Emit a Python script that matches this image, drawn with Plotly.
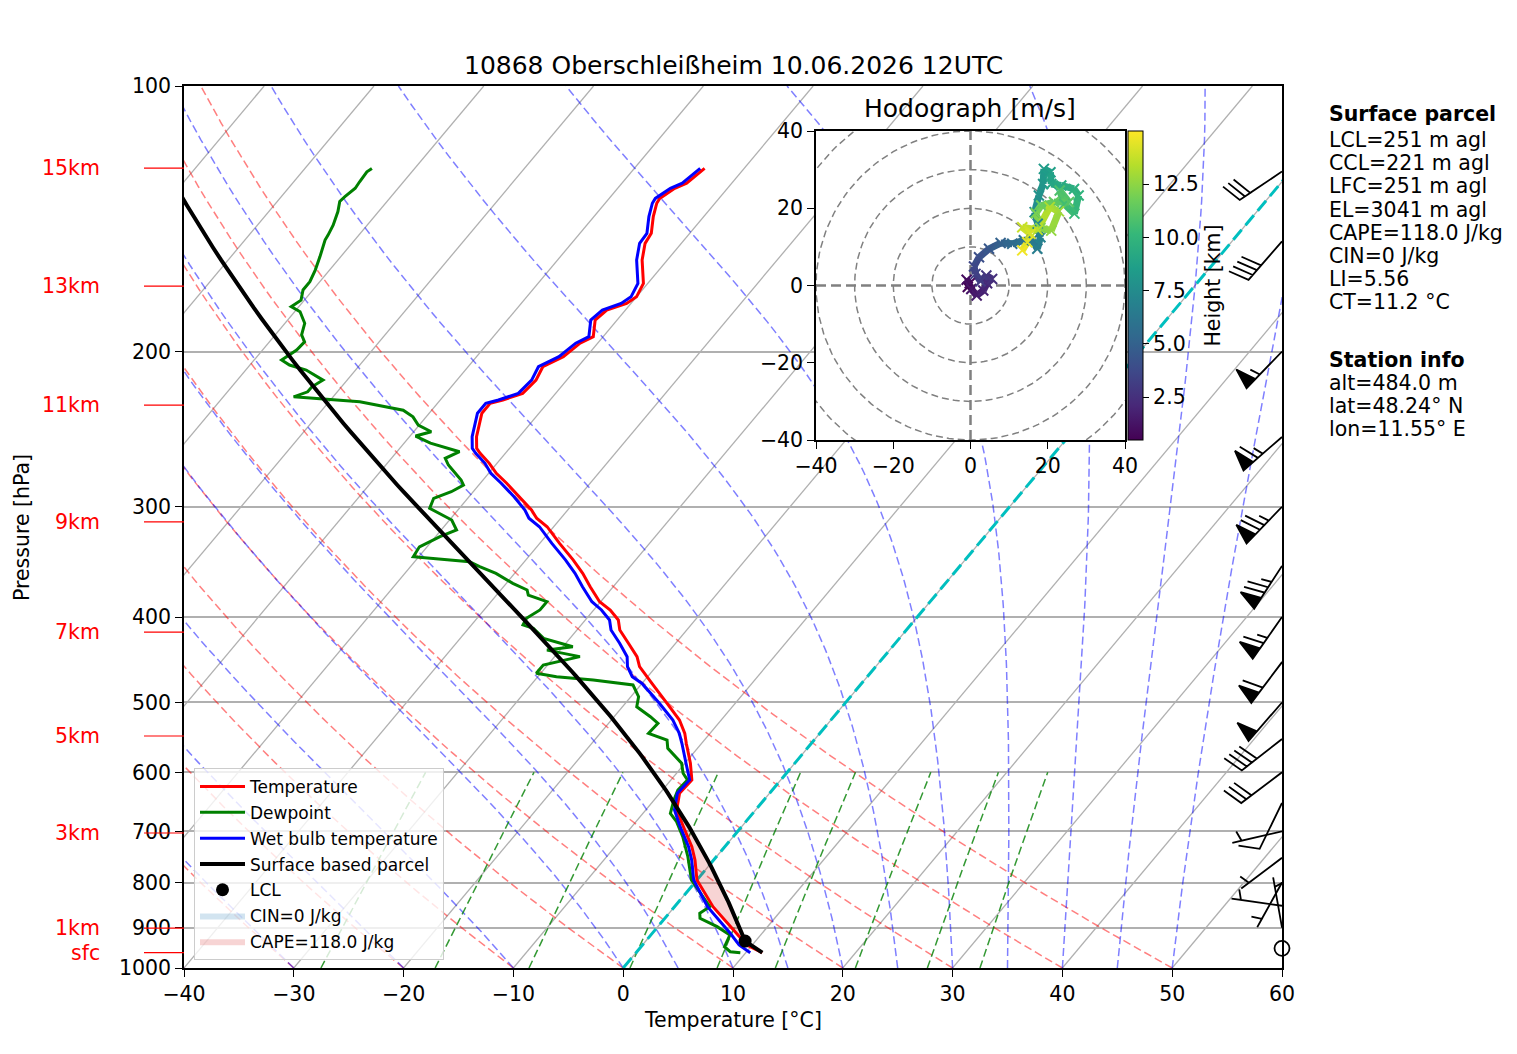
import numpy as np
import plotly.graph_objects as go
from plotly.colors import sample_colorscale

# sounding values (hPa, degC)
temp_p = [124.0, 128.9, 130.6, 134.1, 135.8, 140.6, 146.9, 150.8, 157.5, 167.4,
          173.4, 176.4, 179.5, 184.2, 192.4, 195.7, 202.7, 208.1, 215.5, 223.1,
          227.0, 229.0, 235.0, 245.5, 249.8, 257.5, 260.9, 267.8, 274.9, 282.1,
          292.2, 302.5, 309.1, 316.0, 330.0, 344.6, 356.9, 369.6, 384.3, 392.7,
          403.1, 413.8, 428.4, 443.6, 455.4, 467.5, 475.7, 501.1, 523.4, 541.9,
          556.2, 586.0, 612.0, 633.7, 661.7, 691.5, 728.7, 754.4, 794.7, 852.1,
          913.4, 941.7, 960.8]
temp_c = [-53.6, -54.1, -54.8, -55.4, -55.3, -54.6, -53.5, -53.3, -52.3, -50.4,
          -50.0, -50.4, -51.7, -52.0, -50.9, -51.6, -52.1, -53.2, -52.8, -53.0,
          -54.3, -55.2, -55.2, -54.3, -53.9, -53.0, -52.3, -50.7, -49.3, -47.6,
          -45.4, -43.3, -42.2, -40.6, -38.2, -35.7, -33.8, -32.1, -30.1, -28.5,
          -27.0, -26.1, -24.3, -22.5, -21.5, -20.1, -19.1, -16.2, -13.8, -12.3,
          -11.4, -9.5, -8.1, -8.2, -7.2, -5.3, -3.0, -1.7, 0.0, 3.5,
          7.7, 9.5, 11.5]
wetbulb_c = [-54.0, -54.5, -55.2, -55.8, -55.7, -55.0, -53.9, -53.8, -52.8, -50.9,
             -50.5, -50.9, -52.1, -52.4, -51.3, -52.0, -52.5, -53.6, -53.2, -53.4,
             -54.7, -55.6, -55.6, -54.7, -54.3, -53.4, -52.7, -51.1, -49.8, -48.1,
             -45.9, -43.9, -42.9, -41.3, -38.9, -36.4, -34.5, -32.8, -30.8, -29.3,
             -27.8, -26.9, -25.1, -23.4, -22.6, -21.4, -20.0, -16.9, -14.4, -12.8,
             -11.8, -9.9, -8.3, -8.4, -7.4, -5.6, -3.3, -2.0, -0.3, 3.0,
             7.1, 8.8, 10.4]
dew_p = [124.0, 125.1, 128.4, 130.6, 133.5, 135.2, 138.8, 143.8, 147.6, 149.5,
         156.1, 161.7, 166.7, 170.3, 174.9, 177.9, 180.3, 185.8, 191.5, 195.0,
         199.2, 204.5, 207.2, 209.9, 215.5, 219.3, 222.2, 225.1, 228.0, 233.1,
         237.2, 242.3, 246.6, 249.4, 254.1, 259.8, 264.3, 269.0, 279.7, 283.4,
         288.4, 293.4, 301.2, 310.5, 318.7, 324.3, 333.0, 341.7, 346.2, 350.7,
         356.9, 366.4, 372.7, 377.7, 384.3, 392.7, 401.3, 408.4, 412.0, 422.9,
         432.3, 436.1, 443.6, 453.4, 463.3, 467.5, 471.6, 477.7, 492.5, 505.6,
         518.9, 528.0, 541.9, 551.5, 563.6, 586.0, 601.5, 612.0, 628.4, 645.0,
         667.9, 682.6, 709.7, 747.9, 794.7, 852.1, 866.9, 878.2, 897.7, 917.5,
         946.0, 958.3, 960.8]
dew_c = [-83.9, -84.1, -84.0, -83.9, -84.2, -84.3, -83.7, -83.1, -82.8, -82.7,
         -81.9, -81.3, -80.9, -80.9, -80.3, -80.7, -79.5, -78.2, -77.6, -76.8,
         -76.9, -77.5, -76.4, -74.5, -72.2, -72.7, -72.7, -73.6, -67.2, -62.6,
         -61.2, -60.1, -58.4, -59.5, -57.6, -54.3, -55.1, -54.3, -52.0, -51.4,
         -52.0, -53.1, -52.7, -49.8, -48.6, -49.6, -50.7, -50.5, -45.0, -43.7,
         -41.7, -39.4, -37.6, -37.1, -34.9, -34.9, -35.5, -35.3, -34.1, -32.4,
         -29.1, -31.2, -27.7, -30.4, -30.4, -28.3, -24.7, -20.7, -19.3, -18.7,
         -16.7, -15.5, -15.6, -13.4, -12.7, -10.3, -9.4, -8.5, -8.6, -8.2,
         -7.5, -6.3, -4.6, -2.6, -0.5, 3.2, 2.8, 3.2, 5.4, 7.2,
         7.6, 8.5, 9.5]

sfc_p = 960.8
sfc_t = 11.5
sfc_td = 9.5

# hodograph (m/s) with height (km)
hodo_u = [-0.7, -0.2, -1.0, 0.2, 1.6, 3.3, 4.3, 5.6, 4.1, 2.6, 1.3, 0.9, 2.2, 4.8, 7.8, 10.8,
          13.8, 16.0, 17.3, 18.1, 17.4, 16.6, 17.7, 18.8, 19.0, 20.7, 20.9, 23.5, 26.8, 28.0,
          26.9, 24.3, 23.1, 25.5, 21.6, 18.3, 16.9, 18.1, 20.9, 22.9, 20.5, 17.4, 13.4, 15.5,
          14.7, 13.4]
hodo_v = [-0.4, 0.6, 1.5, -0.9, -2.6, -1.3, 0.6, 1.7, 2.6, 1.1, 3.0, 4.9, 7.3, 9.5, 11.0, 10.8,
          11.7, 11.8, 9.5, 12.5, 16.0, 19.0, 23.3, 26.3, 30.2, 29.3, 26.3, 25.9, 25.0, 23.3,
          18.6, 21.1, 24.6, 21.6, 21.6, 20.7, 18.7, 14.9, 14.2, 19.2, 20.3, 14.4, 15.1, 13.4,
          11.2, 9.1]
hodo_h = [0.5, 0.8, 1.0, 1.3, 1.6, 1.9, 2.2, 2.5, 2.8, 3.0, 3.3, 3.6, 4.0, 4.5, 5.0, 5.5,
          6.0, 6.3, 6.6, 6.9, 7.2, 7.5, 7.8, 8.1, 8.4, 8.7, 9.0, 9.3, 9.6, 9.9,
          10.2, 10.5, 10.8, 11.1, 11.4, 11.7, 12.0, 12.3, 12.6, 12.9, 13.2, 13.5, 13.8, 14.1,
          14.4, 14.7]

# wind barbs (direction deg, speed kt)
barb_p = [125, 150, 200, 250, 300, 350, 400, 450, 500, 550, 600, 650, 700, 750, 800, 850, 900, 950]
barb_dir = [236, 221, 224, 229, 224, 213, 215, 217, 221, 232, 233, 206, 257, 233, 209, 278, 350, 0]
barb_kt = [30, 40, 55, 65, 75, 75, 65, 60, 50, 40, 30, 10, 5, 5, 5, 5, 5, 0]

height_names = ['15km', '13km', '11km', '9km', '7km', '5km', '3km', '1km', 'sfc']
height_p = [123.9, 168.6, 230.0, 312.0, 416.0, 545.7, 703.0, 901.0, sfc_p]

parcel_lines = ['LCL=251 m agl', 'CCL=221 m agl', 'LFC=251 m agl', 'EL=3041 m agl',
                'CAPE=118.0 J/kg', 'CIN=0 J/kg', 'LI=5.56', 'CT=11.2 °C']
station_lines = ['alt=484.0 m', 'lat=48.24° N', 'lon=11.55° E']

K = 67.3
FONT = 'DejaVu Sans'
FS = 20.5
Rd, Cp, Lv, eps = 287.04749, 1004.6662, 2.50084e6, 0.621957
kappa = Rd / Cp


def skew(t, p):
    return np.asarray(t, float) + K * np.log10(1000.0 / np.asarray(p, float))


def sat_vp(tc):
    return 6.112 * np.exp(17.67 * tc / (tc + 243.5))


def dewpoint(e):
    a = np.log(e / 6.112)
    return 243.5 * a / (17.67 - a)


def dtdp(p, t):
    es = sat_vp(t - 273.15)
    rs = eps * es / (p - es)
    frac = (Rd * t + Lv * rs) / (Cp + Lv * Lv * rs * eps / (Rd * t * t))
    return frac / p


def moist(t0k, pres):
    t = np.array(t0k, float)
    out = [t.copy()]
    for p1, p2 in zip(pres[:-1], pres[1:]):
        h = p2 - p1
        k1 = dtdp(p1, t)
        k2 = dtdp(p1 + h / 2, t + h / 2 * k1)
        k3 = dtdp(p1 + h / 2, t + h / 2 * k2)
        k4 = dtdp(p2, t + h * k3)
        t = t + h / 6 * (k1 + 2 * k2 + 2 * k3 + k4)
        out.append(t.copy())
    return np.array(out)


def joined(lines):
    xs, ys = [], []
    for x, y in lines:
        xs += list(x) + [None]
        ys += list(y) + [None]
    return xs, ys


# positions below are given in reference-image pixels, relative to the plot box
def xpap(px):
    return (px - 184) / 1098


def ypap(py):
    return (968 - py) / 882


fig = go.Figure()
pb = np.linspace(1000, 100, 181)

# skewed isotherms
iso = [(skew(np.full(2, t), [1000, 100]), [1000, 100]) for t in range(-110, 61, 10)]
x, y = joined(iso)
fig.add_trace(go.Scatter(x=x, y=y, mode='lines', line=dict(color='#b0b0b0', width=1.3),
                         showlegend=False, hoverinfo='skip'))

# dry adiabats
dry = []
for t0 in range(-40, 51, 10):
    t = (t0 + 273.15) * (pb / 1000) ** kappa - 273.15
    dry.append((skew(t, pb), pb))
x, y = joined(dry)
fig.add_trace(go.Scatter(x=x, y=y, mode='lines',
                         line=dict(color='rgba(255,0,0,0.5)', width=1.5, dash='8px,4px'),
                         showlegend=False, hoverinfo='skip'))

# moist adiabats
mt0 = np.concatenate((np.arange(-40, 0, 10), np.arange(0, 51, 5)))
mt = moist(mt0 + 273.15, pb) - 273.15
x, y = joined([(skew(mt[:, i], pb), pb) for i in range(len(mt0))])
fig.add_trace(go.Scatter(x=x, y=y, mode='lines',
                         line=dict(color='rgba(0,0,255,0.5)', width=1.5, dash='8px,4px'),
                         showlegend=False, hoverinfo='skip'))

# mixing ratio lines
pm = np.linspace(1000, 600, 41)
mix = []
for w in [0.0004, 0.001, 0.002, 0.004, 0.007, 0.01, 0.016, 0.024, 0.032]:
    td = dewpoint(pm * w / (eps + w))
    mix.append((skew(td, pm), pm))
x, y = joined(mix)
fig.add_trace(go.Scatter(x=x, y=y, mode='lines',
                         line=dict(color='rgba(0,128,0,0.8)', width=1.5, dash='8px,4px'),
                         showlegend=False, hoverinfo='skip'))

# freezing level isotherm
fig.add_trace(go.Scatter(x=skew([0, 0], [1000, 100]), y=[1000, 100], mode='lines',
                         line=dict(color='#00bfbf', width=3, dash='13px,6px'),
                         showlegend=False, hoverinfo='skip'))

# surface parcel
w0 = eps * sat_vp(sfc_td) / (sfc_p - sat_vp(sfc_td))
p_lcl = sfc_p
for _ in range(60):
    t_lcl = dewpoint(p_lcl * w0 / (eps + w0))
    p_lcl = sfc_p * ((t_lcl + 273.15) / (sfc_t + 273.15)) ** (1 / kappa)
p_dry = np.linspace(sfc_p, p_lcl, 8)
t_dry = (sfc_t + 273.15) * (p_dry / sfc_p) ** kappa - 273.15
p_wet = np.linspace(p_lcl, 100, 160)
t_wet = moist([t_lcl + 273.15], p_wet)[:, 0] - 273.15
parcel_p = np.concatenate((p_dry, p_wet[1:]))
parcel_t = np.concatenate((t_dry, t_wet[1:]))

# CAPE shading between parcel and environment
lv = np.array(sorted(set([p for p in temp_p if p >= 600]) | set([p for p in parcel_p if p >= 600]),
                     reverse=True))
order = np.argsort(np.log(temp_p))
t_env = np.interp(np.log(lv), np.log(np.array(temp_p))[order], np.array(temp_c)[order])
t_par = np.interp(np.log(lv), np.log(parcel_p[::-1]), parcel_t[::-1])
upper = np.maximum(t_par, t_env)
fig.add_trace(go.Scatter(x=list(skew(upper, lv)) + list(skew(t_env, lv))[::-1],
                         y=list(lv) + list(lv[::-1]), mode='lines', fill='toself',
                         fillcolor='rgba(214,39,40,0.2)', line=dict(width=0),
                         name='CAPE=118.0 J/kg', legendrank=7, legendgroup='g7', hoverinfo='skip'))
fig.add_trace(go.Scatter(x=[None], y=[None], mode='lines', fill='toself',
                         fillcolor='rgba(31,119,180,0.2)', line=dict(width=0),
                         name='CIN=0 J/kg', legendrank=6, legendgroup='g6'))

fig.add_trace(go.Scatter(x=skew(temp_c, temp_p), y=temp_p, mode='lines',
                         line=dict(color='#ff0000', width=3), name='Temperature',
                         legendrank=1, legendgroup='g1'))
fig.add_trace(go.Scatter(x=skew(dew_c, dew_p), y=dew_p, mode='lines',
                         line=dict(color='#008000', width=3), name='Dewpoint',
                         legendrank=2, legendgroup='g2'))
fig.add_trace(go.Scatter(x=skew(wetbulb_c, temp_p), y=temp_p, mode='lines',
                         line=dict(color='#0000ff', width=3), name='Wet bulb temperature',
                         legendrank=3, legendgroup='g3'))
fig.add_trace(go.Scatter(x=skew(parcel_t, parcel_p), y=parcel_p, mode='lines',
                         line=dict(color='black', width=4), name='Surface based parcel',
                         legendrank=4, legendgroup='g4'))
fig.add_trace(go.Scatter(x=skew([t_lcl], [p_lcl]), y=[p_lcl], mode='markers',
                         marker=dict(color='black', size=13), name='LCL',
                         legendrank=5, legendgroup='g5'))

# wind barbs at the right edge, built in pixel units
L = 51.0
H, W, SP = 0.4 * L, 0.25 * L, 0.125 * L
bx, by = [], []
calm_p = []
for p0, d, s in zip(barb_p, barb_dir, barb_kt):
    s = int(5 * round(s / 5))
    if s == 0:
        calm_p.append(p0)
        continue
    sx, sy = np.sin(np.radians(d)), np.cos(np.radians(d))
    nx, ny = sy, -sx
    verts = [(0, 0)]
    off = L
    for i in range(s // 50):
        if off != L:
            off += SP / 2
        verts += [(0, off), (H, off - W / 2), (0, off - W)]
        off -= W + SP
    for i in range((s % 50) // 10):
        verts += [(0, off), (H, off + W / 2), (0, off)]
        off -= SP
    if s % 10 >= 5:
        if off == L:
            verts.append((0, off))
            off -= 1.5 * SP
        verts += [(0, off), (H / 2, off + W / 4), (0, off)]
    verts.append((0, 0))
    for b, a in verts:
        dx = a * sx + b * nx
        dy = a * sy + b * ny
        bx.append(60 + dx / 10.98)
        by.append(p0 * 10 ** (-dy / 882))
    bx.append(None)
    by.append(None)
fig.add_trace(go.Scatter(x=bx, y=by, mode='lines', fill='toself', fillcolor='black',
                         line=dict(color='black', width=1.8), showlegend=False, hoverinfo='skip'))
fig.add_trace(go.Scatter(x=[60] * len(calm_p), y=calm_p, mode='markers', cliponaxis=False,
                         marker=dict(symbol='circle-open', size=15, color='black',
                                     line=dict(width=1.8)),
                         showlegend=False, hoverinfo='skip'))

# hodograph inset
th = np.linspace(0, 2 * np.pi, 181)
circ = [(r * np.cos(th), r * np.sin(th)) for r in range(10, 51, 10)]
x, y = joined(circ)
fig.add_trace(go.Scatter(x=x, y=y, xaxis='x2', yaxis='y2', mode='lines',
                         line=dict(color='grey', width=1.5, dash='7px,4px'),
                         showlegend=False, hoverinfo='skip'))
fig.add_trace(go.Scatter(x=[-40, 40, None, 0, 0], y=[0, 0, None, -40, 40], xaxis='x2', yaxis='y2',
                         mode='lines', line=dict(color='grey', width=2.5, dash='10px,5px'),
                         showlegend=False, hoverinfo='skip'))
cmin, cmax = 0.484, 15.0
for i in range(len(hodo_u) - 1):
    hm = (hodo_h[i] + hodo_h[i + 1]) / 2
    col = sample_colorscale('Viridis', [(hm - cmin) / (cmax - cmin)])[0]
    fig.add_trace(go.Scatter(x=hodo_u[i:i + 2], y=hodo_v[i:i + 2], xaxis='x2', yaxis='y2',
                             mode='lines', line=dict(color=col, width=7),
                             showlegend=False, hoverinfo='skip'))
fig.add_trace(go.Scatter(
    x=hodo_u, y=hodo_v, xaxis='x2', yaxis='y2', mode='markers', showlegend=False,
    marker=dict(size=10, symbol='x-thin', line=dict(width=2, color=hodo_h, colorscale='Viridis',
                                                    cmin=cmin, cmax=cmax),
                color=hodo_h, colorscale='Viridis', cmin=cmin, cmax=cmax,
                showscale=True,
                colorbar=dict(x=xpap(1128), xanchor='left', y=ypap(285.5), yanchor='middle',
                              len=309, lenmode='pixels', thickness=15, thicknessmode='pixels',
                              xpad=0, ypad=0, outlinewidth=1, outlinecolor='black',
                              tickvals=[2.5, 5, 7.5, 10, 12.5],
                              ticktext=['2.5', '5.0', '7.5', '10.0', '12.5'],
                              ticks='outside', ticklen=6, tickcolor='black',
                              tickfont=dict(family=FONT, size=FS, color='black'),
                              title=dict(text='Height [km]', side='right',
                                         font=dict(family=FONT, size=FS, color='black'))))))

shapes = [dict(type='rect', xref='x2', yref='y2', x0=-40, x1=40, y0=-40, y1=40,
               fillcolor='white', line=dict(width=0), layer='below')]
for p in height_p:
    yy = np.log10(1000 / p)
    shapes.append(dict(type='line', xref='paper', yref='paper', x0=xpap(144), x1=0, y0=yy, y1=yy,
                       line=dict(color='red', width=1.2)))

ann = []
for name, p in zip(height_names, height_p):
    ann.append(dict(text=name, x=xpap(102), y=np.log10(1000 / p), xanchor='right', yanchor='middle',
                    font=dict(color='red', size=FS, family=FONT)))
ann.append(dict(text='10868 Oberschleißheim 10.06.2026 12UTC', x=0.5, y=ypap(65),
                xanchor='center', yanchor='middle', font=dict(size=25, family=FONT)))
ann.append(dict(text='Hodograph [m/s]', x=xpap(970), y=ypap(108), xanchor='center',
                yanchor='middle', font=dict(size=25, family=FONT)))
ann.append(dict(text='Pressure [hPa]', x=xpap(22), y=ypap(528), textangle=-90,
                xanchor='center', yanchor='middle', font=dict(size=FS, family=FONT)))
ann.append(dict(text='Temperature [°C]', x=0.5, y=ypap(1020), xanchor='center',
                yanchor='middle', font=dict(size=FS, family=FONT)))
ann.append(dict(text='<b>Surface parcel</b>', x=xpap(1327), y=ypap(114), xanchor='left',
                yanchor='middle', font=dict(size=FS, family=FONT)))
for i, t in enumerate(parcel_lines):
    ann.append(dict(text=t, x=xpap(1327), y=ypap(140 + 23.2 * i), xanchor='left',
                    yanchor='middle', font=dict(size=FS, family=FONT)))
ann.append(dict(text='<b>Station info</b>', x=xpap(1327), y=ypap(359.5), xanchor='left',
                yanchor='middle', font=dict(size=FS, family=FONT)))
for i, t in enumerate(station_lines):
    ann.append(dict(text=t, x=xpap(1327), y=ypap(383 + 23 * i), xanchor='left',
                    yanchor='middle', font=dict(size=FS, family=FONT)))
for a in ann:
    a.update(xref='paper', yref='paper', showarrow=False)

axis_common = dict(showline=True, linecolor='black', linewidth=1.5, mirror=True, ticks='outside',
                   ticklen=7, tickwidth=1.3, tickcolor='black', zeroline=False,
                   tickfont=dict(family=FONT, size=FS, color='black'))
# the page body adds an 8 px offset, so the figure is 8 px smaller and margins shifted
fig.update_layout(
    width=1509, height=1046, autosize=False,
    margin=dict(l=176, r=235, t=78, b=86),
    paper_bgcolor='white', plot_bgcolor='white',
    font=dict(family=FONT, color='black'),
    xaxis=dict(domain=[0, 1], range=[-40, 60], tickvals=list(range(-40, 61, 10)), showgrid=False,
               **axis_common),
    yaxis=dict(type='log', range=[3, 2], tickvals=list(range(100, 1001, 100)),
               ticktext=[str(v) for v in range(100, 1001, 100)], showgrid=True,
               gridcolor='#b0b0b0', gridwidth=1.5, **axis_common),
    xaxis2=dict(domain=[xpap(816), xpap(1125)], range=[-40, 40], anchor='y2',
                tickvals=[-40, -20, 0, 20, 40], showgrid=False, **axis_common),
    yaxis2=dict(domain=[ypap(440), ypap(131)], range=[-40, 40], anchor='x2',
                tickvals=[-40, -20, 0, 20, 40], showgrid=False, **axis_common),
    legend=dict(x=xpap(194), y=ypap(768), xanchor='left', yanchor='top',
                bgcolor='rgba(255,255,255,0.8)', bordercolor='#cccccc', borderwidth=1,
                font=dict(family=FONT, size=17, color='black'), itemwidth=45,
                tracegroupgap=0.7),
    shapes=shapes, annotations=ann,
)

fig.write_html('out.html')
